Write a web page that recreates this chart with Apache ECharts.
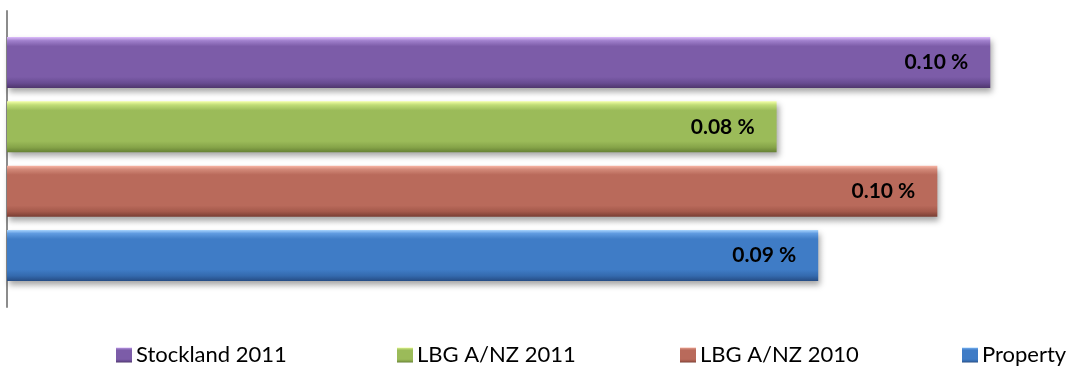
<!DOCTYPE html>
<html>
<head>
<meta charset="utf-8">
<script src="https://cdn.jsdelivr.net/npm/echarts@6/dist/echarts.min.js"></script>
<style>
  html, body { margin: 0; padding: 0; background: #fff; }
  #chart { width: 1067px; height: 367px; }
</style>
</head>
<body>
<div id="chart"></div>
<script>
// Fee comparison, one horizontal bar per series
const categories = [''];
const seriesNames = ['Stockland 2011', 'LBG A/NZ 2011', 'LBG A/NZ 2010', 'Property'];
const stockland2011 = [0.104];
const lbg2011 = [0.0814];
const lbg2010 = [0.0984];
const property = [0.0858];
const seriesValues = [stockland2011, lbg2011, lbg2010, property];
const legendLeft = [111, 392, 675, 957];

const FONT = 'Lato, "Open Sans", sans-serif';

// Bevelled vertical gradients: light top edge, body, dark bottom edge
function bevel(top, light, body, dark, edge) {
  return new echarts.graphic.LinearGradient(0, 0, 0, 1, [
    { offset: 0, color: top },
    { offset: 0.07, color: light },
    { offset: 0.18, color: body },
    { offset: 0.78, color: body },
    { offset: 0.9, color: dark },
    { offset: 1, color: edge }
  ]);
}
const palette = [
  bevel('#dcbcfa', '#a080cc', '#7c5ca8', '#684b92', '#4e356b'),
  bevel('#f2ffa6', '#c0dc76', '#9bbb59', '#86a449', '#658034'),
  bevel('#fbb8a8', '#d38a7a', '#b96a5b', '#a4594b', '#7a3e34'),
  bevel('#aad6ff', '#609be0', '#3f7cc6', '#346aae', '#264d85')
];

const chart = echarts.init(document.getElementById('chart'), null, { renderer: 'canvas' });

const series = seriesNames.map((name, i) => ({
  name: name,
  type: 'bar',
  data: seriesValues[i],
  barWidth: 51,
  barGap: '26%',
  itemStyle: {
    color: palette[i],
    shadowColor: 'rgba(0,0,0,0.35)',
    shadowBlur: 6,
    shadowOffsetX: 2,
    shadowOffsetY: 4
  },
  label: {
    show: true,
    position: 'insideRight',
    distance: 22,
    formatter: p => p.value.toFixed(2) + ' %',
    color: '#000',
    fontFamily: FONT,
    fontWeight: 'bold',
    fontSize: 21
  }
}));

const legends = seriesNames.map((name, i) => ({
  data: [name],
  left: legendLeft[i],
  top: 339,
  icon: 'rect',
  itemWidth: 16,
  itemHeight: 15,
  itemGap: 0,
  textStyle: { fontFamily: FONT, fontSize: 22, color: '#000', padding: [0, 0, 0, -1] }
}));

chart.setOption({
  animation: false,
  backgroundColor: '#fff',
  legend: legends,
  grid: { left: 7, right: 20, top: 11, bottom: 60, containLabel: false },
  xAxis: {
    type: 'value',
    min: 0,
    max: 0.11,
    show: false,
    splitLine: { show: false }
  },
  yAxis: {
    type: 'category',
    data: categories,
    inverse: true,
    axisLine: { show: true, lineStyle: { color: '#8c8c8c', width: 2 } },
    axisTick: { show: false },
    axisLabel: { show: false }
  },
  series: series
});
</script>
</body>
</html>
